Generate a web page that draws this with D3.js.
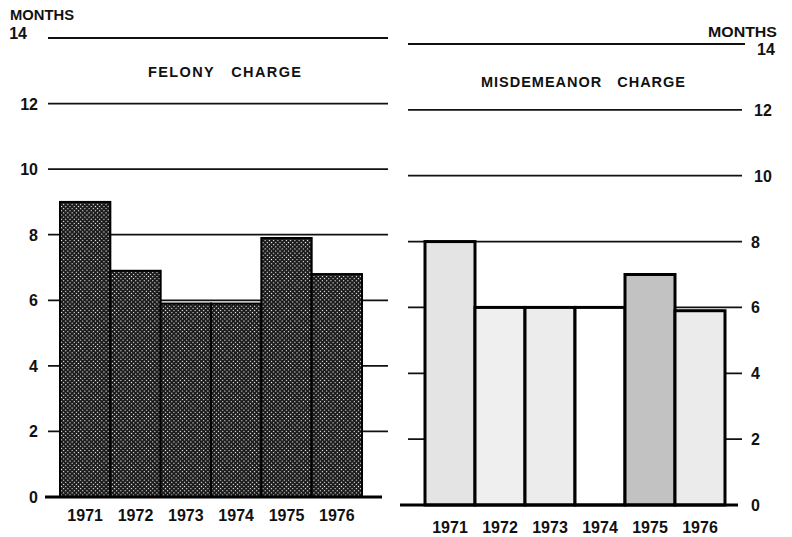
<!DOCTYPE html>
<html><head><meta charset="utf-8">
<script src="https://cdn.jsdelivr.net/npm/d3@7"></script>
<style>body{margin:0;background:#fff}text{font-family:"Liberation Sans",Arial,sans-serif;font-weight:bold;fill:#111}</style>
</head><body><svg id="c" width="792" height="537"></svg>
<script>
const years = ["1971","1972","1973","1974","1975","1976"];
const felony = [9.0, 6.9, 5.9, 5.9, 7.9, 6.8];
const misdemeanor = [8.0, 6.0, 6.0, 6.0, 7.0, 5.9];
const ticks = [0, 2, 4, 6, 8, 10, 12, 14];
const misFills = ["#e4e4e4", "#efefef", "#ececec", "#ffffff", "#c2c2c2", "#ebebeb"];

const svg = d3.select("#c");
const defs = svg.append("defs");
const pat = defs.append("pattern").attr("id","hatch").attr("patternUnits","userSpaceOnUse")
  .attr("width",3).attr("height",3).attr("patternTransform","rotate(45)");
pat.append("rect").attr("width",3).attr("height",3).attr("fill","#1a1a1a");
pat.append("rect").attr("width",1.1).attr("height",1.1).attr("fill","#ffffff");

// LEFT PANEL
const yL = d3.scaleLinear().domain([0,14]).range([497,38]);
const xL = d3.scaleBand().domain(years).range([60,362]).padding(0);
const gL = svg.append("g");
gL.selectAll("line.grid").data(ticks.filter(t=>t>0)).join("line")
  .attr("x1",48).attr("x2",388).attr("y1",d=>yL(d)).attr("y2",d=>yL(d))
  .attr("stroke","#111").attr("stroke-width",d=>d===14?2.2:1.8);
gL.selectAll("rect.bar").data(felony).join("rect")
  .attr("x",(d,i)=>xL(years[i])).attr("width",xL.bandwidth())
  .attr("y",d=>yL(d)).attr("height",d=>yL(0)-yL(d))
  .attr("fill","url(#hatch)").attr("stroke","#000").attr("stroke-width",2);
gL.append("line").attr("x1",45).attr("x2",382).attr("y1",yL(0)).attr("y2",yL(0))
  .attr("stroke","#000").attr("stroke-width",3);
gL.selectAll("text.tick").data(ticks).join("text")
  .attr("x",d=>d===14?27:38).attr("y",d=>yL(d)+(d===14?1:6)).attr("text-anchor","end")
  .attr("font-size",16).text(d=>d);
gL.append("text").attr("x",10).attr("y",20).attr("font-size",14)
  .attr("textLength",64).attr("lengthAdjust","spacingAndGlyphs").text("MONTHS");
gL.append("text").attr("x",148).attr("y",77).attr("font-size",14.5).style("white-space","pre")
  .attr("textLength",153).attr("lengthAdjust","spacing").text("FELONY   CHARGE");
gL.selectAll("text.yr").data(years).join("text")
  .attr("x",d=>xL(d)+xL.bandwidth()/2).attr("y",521).attr("text-anchor","middle")
  .attr("font-size",16).text(d=>d);

// RIGHT PANEL
const yR = d3.scaleLinear().domain([0,14]).range([505,44]);
const xR = d3.scaleBand().domain(years).range([425,725]).padding(0);
const gR = svg.append("g");
gR.selectAll("line.grid").data(ticks.filter(t=>t>0)).join("line")
  .attr("x1",408).attr("x2",d=>d===14?745:742).attr("y1",d=>yR(d)).attr("y2",d=>yR(d))
  .attr("stroke","#111").attr("stroke-width",d=>d===14?2.2:1.8);
gR.selectAll("rect.bar").data(misdemeanor).join("rect")
  .attr("x",(d,i)=>xR(years[i])).attr("width",xR.bandwidth())
  .attr("y",d=>yR(d)).attr("height",d=>yR(0)-yR(d))
  .attr("fill",(d,i)=>misFills[i]).attr("stroke","#000").attr("stroke-width",3);
gR.append("line").attr("x1",400).attr("x2",738).attr("y1",yR(0)).attr("y2",yR(0))
  .attr("stroke","#000").attr("stroke-width",3);
gR.selectAll("text.tick").data(ticks).join("text")
  .attr("x",d=>d===14?757:(d>=10?754:751)).attr("y",d=>yR(d)+(d===14?11:6))
  .attr("font-size",16).text(d=>d);
gR.append("text").attr("x",708).attr("y",37).attr("font-size",14)
  .attr("textLength",69).attr("lengthAdjust","spacingAndGlyphs").text("MONTHS");
gR.append("text").attr("x",481).attr("y",87).attr("font-size",14.5).style("white-space","pre")
  .attr("textLength",204).attr("lengthAdjust","spacing").text("MISDEMEANOR   CHARGE");
gR.selectAll("text.yr").data(years).join("text")
  .attr("x",d=>xR(d)+xR.bandwidth()/2).attr("y",533).attr("text-anchor","middle")
  .attr("font-size",16).text(d=>d);
</script></body></html>
